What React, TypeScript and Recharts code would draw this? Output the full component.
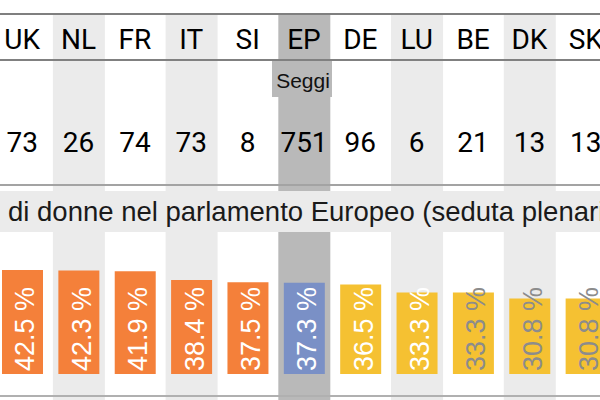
import { Bar, BarChart, Cell, LabelList, XAxis, YAxis } from "recharts";

const codes = ["UK", "NL", "FR", "IT", "SI", "EP", "DE", "LU", "BE", "DK", "SK"];
const seats = [73, 26, 74, 73, 8, 751, 96, 6, 21, 13, 13];
const womenPct = [42.5, 42.3, 41.9, 38.4, 37.5, 37.3, 36.5, 33.3, 33.3, 30.8, 30.8];
// which side of the EP average each country falls on
const groups = ["above", "above", "above", "above", "above", "ep", "below", "below", "below", "below", "below"];
const darkLabels = ["BE", "DK", "SK"];

const title = "di donne nel parlamento Europeo (seduta plenaria)";

const ORANGE = "#f4803a";
const BLUE = "#7a90c6";
const YELLOW = "#f5c132";
const BAND = "#ebebeb";
const BAND_EP = "#b9b9b9";

const rows = codes.map((code, i) => ({ code, seats: seats[i], women: womenPct[i] }));

const fillFor = (g: string) => (g === "above" ? ORANGE : g === "ep" ? BLUE : YELLOW);

function HeaderCell(props: any) {
  const { x, payload, index } = props;
  const isEP = payload.value === "EP";
  return (
    <g>
      {isEP && (
        <>
          <rect x={x - 32} y={61} width={60} height={36} fill={BAND_EP} />
          <text x={x - 1} y={88} textAnchor="middle" fontSize={21} fontFamily="Liberation Sans, Arial" fill="#111">
            Seggi
          </text>
        </>
      )}
      <text x={x} y={49} textAnchor="middle" fontSize={28} fontFamily="Roboto" fill="#000">
        {payload.value}
      </text>
      <text x={x} y={152} textAnchor="middle" fontSize={28} fontFamily="Roboto" fill="#000">
        {seats[index]}
      </text>
    </g>
  );
}

function Band(props: any) {
  const { x, y, width, index } = props;
  const code = codes[index];
  const fill = code === "EP" ? BAND_EP : index % 2 === 1 ? BAND : "none";
  const cx = x + width / 2;
  return <rect x={cx - 26} y={y + 14} width={52} height={386} fill={fill} />;
}

function PctLabel(props: any) {
  const { x, y, width, height, value, index } = props;
  const bx = Number(x) + Number(width) / 2 + 12;
  const by = Number(y) + Number(height) - 3;
  const color = darkLabels.includes(codes[index]) ? "#8c8c8c" : "#ffffff";
  return (
    <text
      x={bx}
      y={by}
      transform={`rotate(-90 ${bx} ${by})`}
      fontSize={27}
      fontFamily="Liberation Sans, Arial"
      fill={color}
    >
      {Number(value).toFixed(1)} %
    </text>
  );
}

const rule = (top: number, color: string) => (
  <div style={{ position: "absolute", left: 0, top, width: 600, height: 2, background: color }} />
);

export default function App() {
  return (
    <div
      style={{
        position: "fixed",
        left: 0,
        top: 0,
        width: 600,
        height: 400,
        overflow: "hidden",
        background: "#fff",
      }}
    >
      <div style={{ position: "absolute", left: -6, top: 0 }}>
        <BarChart width={620} height={400} data={rows} margin={{ top: 0, right: 0, bottom: 0, left: 0 }}>
          <XAxis
            dataKey="code"
            orientation="top"
            mirror
            axisLine={false}
            tickLine={false}
            interval={0}
            tick={(p: any) => <HeaderCell {...p} />}
          />
          <YAxis hide type="number" domain={[-10.6, 152.65]} allowDataOverflow />
          <Bar dataKey="women" barSize={41} isAnimationActive={false} background={(p: any) => <Band {...p} />}>
            {rows.map((r, i) => (
              <Cell key={r.code} fill={fillFor(groups[i])} />
            ))}
            <LabelList dataKey="women" content={(p: any) => <PctLabel {...p} />} />
          </Bar>
        </BarChart>
      </div>
      <div
        style={{
          position: "absolute",
          left: 0,
          top: 191,
          width: 600,
          height: 41,
          background: BAND,
          fontFamily: "Liberation Sans, Arial",
          fontSize: 27.5,
          lineHeight: "41px",
          color: "#1a1a1a",
          whiteSpace: "nowrap",
          overflow: "hidden",
          paddingLeft: 8,
          boxSizing: "border-box",
        }}
      >
        {title}
      </div>
      {rule(13, "#7f7f7f")}
      {rule(59, "#808080")}
      {rule(184, "#a3a3a3")}
      {rule(395, "#b0b0b0")}
    </div>
  );
}
